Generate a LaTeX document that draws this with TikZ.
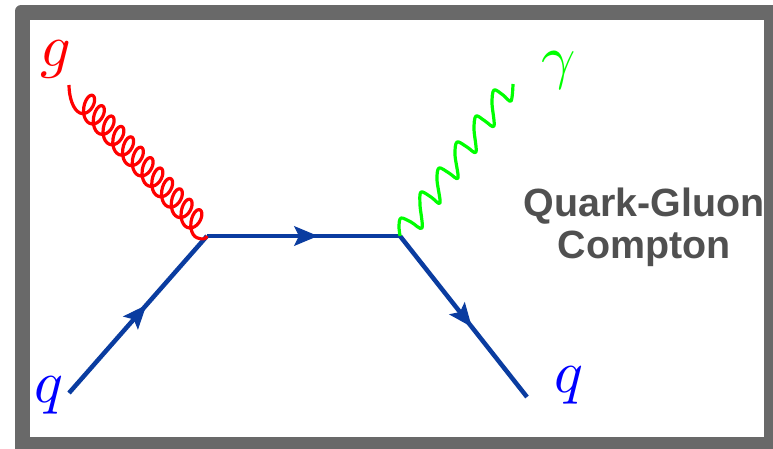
\documentclass[tikz,border=0pt]{standalone}
\usepackage{fontspec}
\setsansfont{Liberation Sans}
\usetikzlibrary{decorations.markings,arrows.meta}
\definecolor{frameg}{HTML}{696969}
\definecolor{quarkb}{HTML}{0A3CA0}
\definecolor{textg}{HTML}{505050}
\tikzset{
  frameouter/.style={fill=frameg,rounded corners=6pt},
  frameinner/.style={fill=white},
  quark/.style={draw=quarkb,line width=4.5pt,postaction={decorate},
    decoration={markings,mark=at position #1 with {\arrow[quarkb,line width=1pt]{Stealth[length=24pt,width=20pt,inset=5pt]}}}},
  gluon/.style={draw=red,line width=3.2pt,line join=round},
  photon/.style={draw=green,line width=3.2pt,line join=round},
  labeltext/.style={font=\sffamily\bfseries\fontsize{39.4pt}{42pt}\selectfont,text=textg,inner sep=0pt,align=center},
  sym/.style={inner sep=0pt,scale=6}
}
\begin{document}
\begin{tikzpicture}[x=1pt,y=-1pt]
\useasboundingbox (0,0) rectangle (773,448);
\fill[frameouter] (15,5) rectangle (790,470);
\fill[frameinner] (30,20) rectangle (764,437);
\coordinate (gs) at (69,85);
\coordinate (v1) at (207,236);
\coordinate (v2) at (400,236);
\coordinate (ps) at (513,84);
\coordinate (q1) at (69,393);
\coordinate (q2) at (527,397);
\draw[quark=0.56] (q1) -- (v1);
\draw[quark=0.575] (v1) -- (v2);
\draw[quark=0.565] (v2) -- (q2);
\draw[gluon] (gs) .. controls (69,97) and (73,110) .. (80,113)
  -- plot[domain=0:4320,samples=289,variable=\t]
     ({83.5+\t/360*9.75-3.5*cos(\t)+7*sin(\t)},{101.5+\t/360*10.4+11.5*cos(\t)+2*sin(\t)})
  .. controls (203,240) and (206,239) .. (v1);
\draw[photon] plot[smooth,tension=0.55] coordinates {(v2) (399,226) (401,218) (411,222) (422,228) (420,205) (421,192) (431,197) (440,203) (437,180) (439,168) (449,173) (458,178) (455,155) (457,142) (467,147) (476,152) (474,129) (476,116) (485,121) (494,126) (492,103) (494,90) (503,95) (511,101) (ps)};
\node[sym,text=red] (g) at (56,59) {$g$};
\node[sym,text=blue] (qa) at (49,395) {$q$};
\node[sym,text=blue] (qb) at (569,385) {$q$};
\node[sym,text=green] (ga) at (559,70) {$\gamma$};
\node[labeltext] (t1) at (644,206) {Quark-Gluon};
\node[labeltext] (t2) at (644,249) {Compton};
\end{tikzpicture}
\end{document}
